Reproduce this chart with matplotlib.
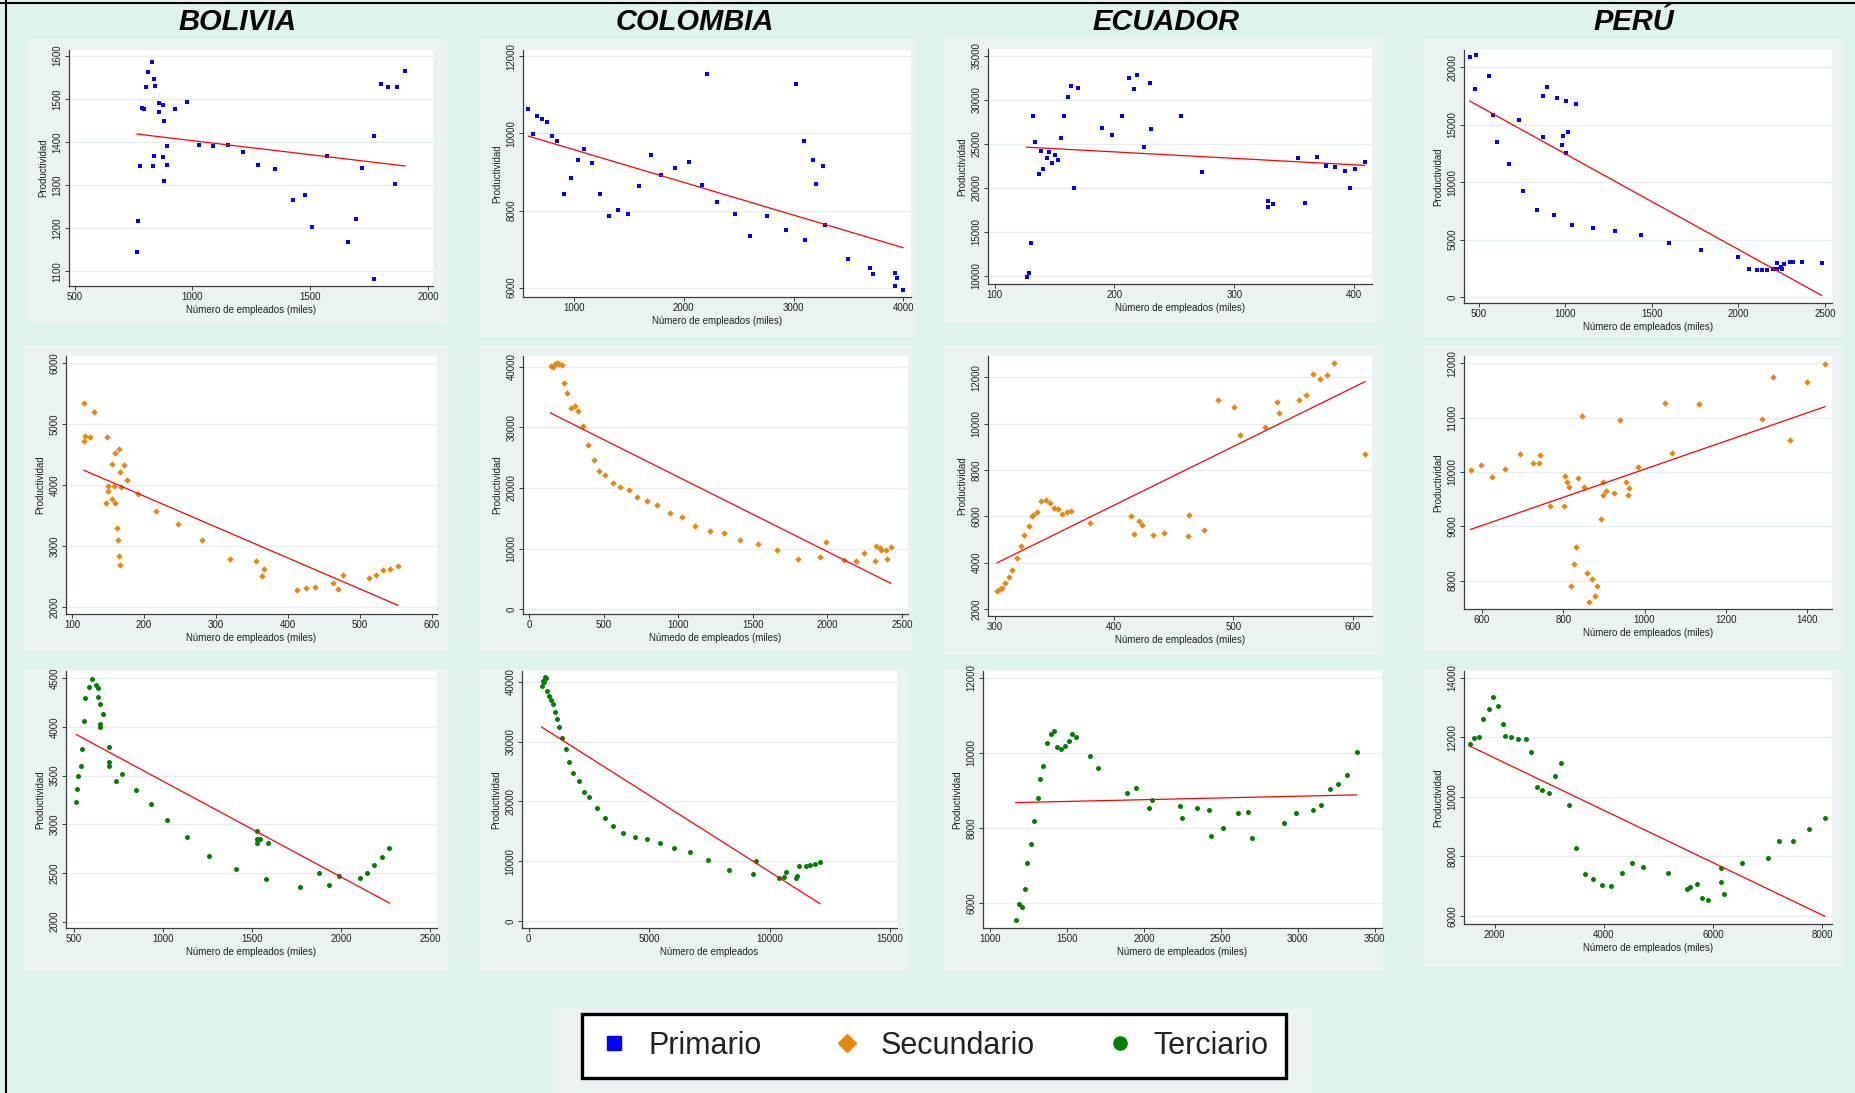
import numpy as np
import matplotlib.pyplot as plt
from matplotlib.patches import Rectangle
from matplotlib.lines import Line2D

plt.rcParams['font.family'] = ['Liberation Sans', 'DejaVu Sans']

countries = ['BOLIVIA', 'COLOMBIA', 'ECUADOR', 'PERÚ']
sectors = ['Primario', 'Secundario', 'Terciario']

# --- Primario ---
bol_pri_x = [765, 769, 779, 787, 793, 802, 810, 827, 833, 837, 837, 841, 860, 860, 874, 874, 878, 878, 891, 891,
             926, 976, 1030, 1089, 1151, 1214, 1280, 1352, 1429, 1477, 1510, 1572, 1663, 1694, 1721, 1770, 1770,
             1801, 1832, 1859, 1869, 1904]
bol_pri_y = [1144, 1216, 1345, 1479, 1477, 1527, 1562, 1585, 1345, 1368, 1546, 1530, 1489, 1469, 1485, 1366, 1448,
             1310, 1391, 1347, 1476, 1493, 1393, 1391, 1393, 1377, 1347, 1338, 1266, 1278, 1202, 1368, 1167, 1221,
             1340, 1414, 1082, 1534, 1527, 1303, 1527, 1564]

col_pri_x = [584, 624, 663, 706, 757, 797, 848, 909, 973, 1033, 1094, 1164, 1237, 1318, 1400, 1491, 1594, 1697,
             1797, 1919, 2043, 2165, 2207, 2307, 2462, 2604, 2756, 2932, 3023, 3096, 3105, 3175, 3205, 3269, 3290,
             3493, 3699, 3726, 3927, 3942, 3921, 3997]
col_pri_y = [10632, 9983, 10450, 10364, 10303, 9931, 9801, 8441, 8849, 9307, 9602, 9229, 8441, 7853, 8009, 7905,
             8632, 9446, 8926, 9091, 9256, 8658, 11550, 8234, 7905, 7342, 7853, 7498, 11281, 9792, 7229, 9307, 8693,
             9152, 7636, 6745, 6502, 6346, 6372, 6260, 6043, 5939]

ecu_pri_x = [126.7, 128.7, 130.3, 132.3, 134.0, 136.7, 138.7, 140.6, 143.4, 145.1, 147.8, 150.7, 152.6, 155.4,
             158.2, 161.0, 163.7, 166.5, 169.3, 189.6, 198.0, 206.6, 212.2, 216.6, 218.6, 225.0, 229.7, 230.5,
             255.6, 273.1, 327.9, 327.9, 332.7, 353.3, 359.4, 368.9, 376.4, 383.9, 392.2, 396.7, 400.6, 408.9]
ecu_pri_y = [9810, 10264, 13711, 28106, 25189, 21590, 24204, 22158, 23409, 24091, 22840, 23750, 23182, 25644,
             28106, 30303, 31591, 20000, 31363, 26780, 25985, 28106, 32500, 31250, 32841, 24621, 31932, 26629,
             28106, 21818, 18485, 17803, 18144, 23409, 18258, 23523, 22500, 22386, 21932, 20000, 22083, 22955]

per_pri_x = [448, 483, 479, 558, 583, 606, 676, 730, 753, 839, 870, 870, 895, 932, 951, 980, 988, 1005, 1005, 1013,
             1036, 1061, 1160, 1289, 1435, 1601, 1784, 1995, 2062, 2105, 2135, 2166, 2197, 2220, 2224, 2245, 2251,
             2265, 2296, 2315, 2369, 2481]
per_pri_y = [20872, 21047, 18081, 19273, 15843, 13517, 11570, 15378, 9273, 7587, 17500, 13895, 18256, 7122, 17326,
             13256, 14012, 17064, 12529, 14360, 6308, 16773, 6017, 5727, 5378, 4709, 4070, 3517, 2413, 2326, 2326,
             2326, 2413, 2965, 2413, 2616, 2413, 2849, 3052, 3052, 3052, 2965]

# --- Secundario ---
bol_sec_x = [116.7, 130.1, 116.7, 118.5, 124.5, 148.1, 160.2, 165.7, 155.6, 172.2, 167.1, 176.4, 149.5, 149.5,
             158.3, 167.6, 146.8, 160.2, 155.6, 191.2, 216.7, 162.0, 164.4, 165.7, 167.1, 246.8, 281.0, 319.4,
             355.6, 363.4, 366.2, 412.5, 425.5, 437.5, 462.5, 469.4, 476.4, 512.5, 522.7, 532.4, 542.1, 552.8]
bol_sec_y = [5351, 5209, 4729, 4816, 4799, 4799, 4532, 4592, 4357, 4336, 4216, 4090, 3986, 3910, 3981, 3965, 3703,
             3703, 3774, 3861, 3577, 3293, 3102, 2835, 2693, 3370, 3102, 2797, 2764, 2513, 2622, 2284, 2322, 2338,
             2404, 2306, 2529, 2480, 2535, 2606, 2622, 2671]

col_sec_x = [145, 163, 172, 188, 204, 219, 233, 257, 280, 307, 331, 360, 398, 434, 472, 510, 561, 607, 667, 727,
             793, 859, 944, 1025, 1115, 1213, 1307, 1417, 1536, 1661, 1800, 1952, 1990, 2108, 2191, 2245, 2319, 2328,
             2355, 2362, 2393, 2400, 2424]
col_sec_y = [40166, 40000, 40388, 40555, 40388, 40222, 37337, 35728, 33176, 33564, 32676, 30291, 27128, 24577,
             22801, 22080, 20804, 20249, 19695, 18474, 17920, 17198, 15867, 15200, 13758, 12871, 12649, 11428,
             10707, 9819, 8321, 8543, 11096, 8155, 7988, 9264, 7988, 10374, 10041, 9764, 9819, 8321, 10208]

ecu_sec_x = [302.2, 304.2, 305.9, 308.4, 312.0, 314.8, 318.4, 322.1, 324.9, 328.5, 331.3, 332.4, 335.5, 339.1,
             342.7, 346.4, 349.4, 353.1, 356.7, 360.6, 364.2, 379.9, 414.2, 417.0, 420.9, 423.7, 432.9, 442.2,
             462.0, 462.8, 474.9, 487.2, 500.8, 505.6, 526.0, 536.3, 538.3, 555.0, 560.6, 566.2, 572.6, 578.2,
             583.8, 610.1]
ecu_sec_y = [2790, 2848, 2906, 3136, 3367, 3683, 4201, 4719, 5194, 5568, 6028, 6071, 6186, 6647, 6705, 6561, 6359,
             6316, 6115, 6186, 6230, 5712, 5999, 5237, 5798, 5611, 5194, 5294, 5150, 6043, 5424, 11021, 10734, 9510,
             9842, 10921, 10446, 11021, 11252, 12144, 11914, 12101, 12619, 8676]

per_sec_x = [572, 598, 625, 656, 693, 726, 740, 743, 768, 803, 805, 810, 814, 818, 826, 832, 836, 845, 850, 858,
             863, 871, 879, 883, 892, 897, 898, 904, 924, 939, 954, 959, 962, 983, 1051, 1067, 1134, 1289, 1315,
             1357, 1399, 1444]
per_sec_y = [10040, 10138, 9905, 10058, 10334, 10168, 10168, 10309, 9378, 9378, 9929, 9807, 9733, 7908, 8300, 8618,
             9887, 11032, 9733, 8147, 7608, 8024, 7712, 7908, 9139, 9825, 9568, 9654, 9611, 10959, 9825, 9586, 9697,
             10095, 11271, 10352, 11253, 10977, 11755, 10591, 11657, 11988]

# --- Terciario ---
bol_ter_x = [515, 521, 526, 539, 545, 556, 564, 588, 605, 623, 636, 636, 648, 648, 648, 666, 696, 696, 696, 739,
             769, 848, 932, 1021, 1137, 1259, 1408, 1528, 1528, 1528, 1547, 1577, 1588, 1769, 1877, 1932, 1986, 2106,
             2143, 2186, 2227, 2270]
bol_ter_y = [3231, 3365, 3498, 3597, 3775, 4066, 4295, 4408, 4497, 4432, 4397, 4308, 4240, 4031, 3997, 4131, 3795,
             3642, 3597, 3443, 3518, 3354, 3207, 3043, 2865, 2674, 2544, 2930, 2845, 2810, 2845, 2441, 2810, 2356,
             2499, 2376, 2465, 2445, 2499, 2578, 2663, 2752]

col_ter_x = [540, 581, 623, 678, 734, 761, 858, 913, 996, 1080, 1176, 1259, 1398, 1536, 1675, 1855, 2076, 2297,
             2519, 2837, 3156, 3515, 3917, 4415, 4913, 5439, 6034, 6699, 7460, 8318, 9300, 9439, 10380, 10601,
             10698, 11100, 11155, 11238, 11515, 11695, 11875, 12096]
col_ter_y = [39222, 40111, 39944, 40833, 40667, 38500, 37611, 36889, 36333, 34889, 33833, 32389, 30556, 28778,
             26611, 24833, 23389, 21556, 20833, 18889, 17278, 15833, 14722, 14000, 13667, 13111, 12222, 11500,
             10222, 8611, 7889, 10056, 7167, 7333, 8222, 7167, 7556, 9167, 9167, 9333, 9500, 9889]

ecu_ter_x = [1167, 1189, 1206, 1228, 1243, 1265, 1286, 1310, 1326, 1347, 1369, 1393, 1415, 1438, 1460, 1488, 1512,
             1534, 1558, 1649, 1701, 1888, 1948, 2031, 2055, 2235, 2248, 2345, 2421, 2437, 2513, 2614, 2677, 2706,
             2910, 2992, 3098, 3150, 3211, 3263, 3322, 3383]
ecu_ter_y = [5549, 5982, 5894, 6380, 7071, 7584, 8186, 8788, 9310, 9655, 10257, 10513, 10593, 10168, 10115, 10195,
             10310, 10513, 10425, 9911, 9593, 8938, 9080, 8531, 8761, 8593, 8274, 8531, 8478, 7788, 7991, 8389, 8416,
             7734, 8133, 8389, 8478, 8619, 9053, 9168, 9425, 10027]

per_ter_x = [1541, 1615, 1713, 1792, 1890, 1969, 2067, 2159, 2196, 2300, 2434, 2575, 2667, 2771, 2862, 2985, 3101,
             3211, 3352, 3492, 3645, 3798, 3957, 4128, 4324, 4520, 4715, 5180, 5529, 5584, 5706, 5804, 5902, 6153,
             6153, 6196, 6526, 7009, 7205, 7461, 7749, 8043]
per_ter_y = [11765, 11978, 12011, 12626, 12950, 13341, 13050, 12447, 12056, 12022, 11944, 11944, 11508, 10335,
             10235, 10134, 10693, 11128, 9732, 8279, 7419, 7240, 7028, 6994, 7453, 7777, 7631, 7453, 6916, 6961,
             7061, 6592, 6525, 7598, 7129, 6737, 7777, 7955, 8525, 8525, 8916, 9274]

lbl_miles = 'Número de empleados (miles)'

W, H = 1856, 1093
fig = plt.figure(figsize=(W / 100, H / 100), dpi=100)
fig.patch.set_facecolor('#def2ee')

def rect(l, r, t, b):
    return [l / W, 1 - b / H, (r - l) / W, (b - t) / H]

def region(l, r, t, b, color='#eaf2f3'):
    fig.add_artist(Rectangle((l / W, 1 - b / H), (r - l) / W, (b - t) / H, transform=fig.transFigure,
                             facecolor=color, edgecolor='none', zorder=0))

styles = [('s', '#0000ff', 3.4), ('D', '#e8870e', 3.3), ('o', '#008000', 3.6)]

# (x, y, sector, xticks, yticks, xlim, ylim, xlabel, plot box, region box)
panels = [
    (bol_pri_x, bol_pri_y, 0, range(500, 2001, 500), range(1100, 1601, 100), (476, 2022), (1066, 1613),
     lbl_miles, (69, 433, 50, 286), (27, 446, 39, 324)),
    (col_pri_x, col_pri_y, 0, range(1000, 4001, 1000), range(6000, 12001, 2000), (536, 4069), (5758, 12164),
     lbl_miles, (523, 911, 50, 297), (479, 915, 39, 337)),
    (ecu_pri_x, ecu_pri_y, 0, range(100, 401, 100), range(10000, 35001, 5000), (94.4, 415), (9052, 35758),
     lbl_miles, (988, 1372, 49, 284), (943, 1382, 38, 323)),
    (per_pri_x, per_pri_y, 0, range(500, 2501, 500), range(0, 20001, 5000), (415, 2540), (-523, 21512),
     lbl_miles, (1464, 1832, 50, 303), (1422, 1843, 39, 337)),
    (bol_sec_x, bol_sec_y, 1, range(100, 601, 100), range(2000, 6001, 1000), (91.7, 607), (1891, 6120),
     lbl_miles, (66, 437, 356, 614), (22, 450, 345, 651)),
    (col_sec_x, col_sec_y, 1, range(0, 2501, 500), range(0, 40001, 10000), (-40, 2540), (-778, 41775),
     'Númedo de empleados (miles)', (523, 908, 356, 614), (478, 912, 345, 651)),
    (ecu_sec_x, ecu_sec_y, 1, range(300, 601, 100), range(2000, 12001, 2000), (294.4, 616), (1697, 12921),
     lbl_miles, (988, 1372, 356, 616), (943, 1382, 345, 655)),
    (per_sec_x, per_sec_y, 1, range(600, 1401, 200), range(8000, 12001, 1000), (556, 1461), (7479, 12135),
     lbl_miles, (1464, 1832, 356, 609), (1422, 1843, 345, 651)),
    (bol_ter_x, bol_ter_y, 2, range(500, 2501, 500), range(2000, 4501, 500), (457, 2537), (1935, 4575),
     lbl_miles, (66, 437, 671, 928), (23, 450, 669, 971)),
    (col_ter_x, col_ter_y, 2, range(0, 15001, 5000), range(0, 40001, 10000), (-277, 15293), (-1111, 41778),
     'Número de empleados', (522, 897, 671, 928), (478, 908, 669, 971)),
    (ecu_ter_x, ecu_ter_y, 2, range(1000, 3501, 500), range(6000, 12001, 2000), (954, 3548), (5345, 12177),
     lbl_miles, (983, 1382, 671, 928), (943, 1383, 669, 971)),
    (per_ter_x, per_ter_y, 2, range(2000, 8001, 2000), range(6000, 14001, 2000), (1437, 8177), (5732, 14223),
     lbl_miles, (1464, 1832, 671, 924), (1422, 1843, 669, 967)),
]

axis_col = '#3c3c3c'
for x, y, sec, xt, yt, xl, yl, xlab, pbox, rbox in panels:
    region(*rbox)
    ax = fig.add_axes(rect(*pbox))
    ax.set_facecolor('white')
    x = np.array(x, float)
    y = np.array(y, float)
    m, c, ms = styles[sec]
    ax.plot(x, y, ls='none', marker=m, color=c, markersize=ms, markeredgewidth=0, zorder=3)
    # linear fit, drawn over the observed range of x
    b1, b0 = np.polyfit(x, y, 1)
    xs = np.array([x.min(), x.max()])
    ax.plot(xs, b0 + b1 * xs, color='#ff0000', lw=0.9, zorder=4)
    ax.set_xlim(*xl)
    ax.set_ylim(*yl)
    ax.set_xticks(list(xt), labels=[str(v) for v in xt])
    ax.set_yticks(list(yt), labels=[str(v) for v in yt])
    for s in ['top', 'right']:
        ax.spines[s].set_visible(False)
    for s in ['left', 'bottom']:
        ax.spines[s].set_color(axis_col)
        ax.spines[s].set_linewidth(0.9)
    ax.tick_params(labelsize=7, length=3, width=0.7, color=axis_col, pad=1.5, labelcolor='#222222')
    plt.setp(ax.get_yticklabels(), rotation=90, va='center')
    ax.yaxis.grid(True, color='#e6eef0', lw=1.0)
    ax.set_axisbelow(True)
    ax.set_xlabel(xlab, fontsize=7, labelpad=2, color='#222222')
    ax.set_ylabel('Productividad', fontsize=7, labelpad=3, color='#222222')

for name, cx in zip(countries, [237, 695, 1166, 1634]):
    fig.text(cx / W, 1 - 22 / H, name, ha='center', va='center', fontsize=21,
             fontweight='bold', fontstyle='italic', color='black')

# legend
region(553, 1312, 1008, 1093)
handles = [Line2D([], [], ls='none', marker=styles[i][0], color=styles[i][1], markersize=9.5 if i != 1 else 9)
           for i in range(3)]
leg = fig.legend(handles, sectors, loc='center', bbox_to_anchor=(934 / W, 1 - 1046 / H), ncol=3,
                 frameon=True, fancybox=False, edgecolor='black', facecolor='white', framealpha=1,
                 fontsize=22, handletextpad=0.6, columnspacing=2.3, borderpad=0.55, handlelength=1.0)
leg.get_frame().set_linewidth(2.4)
for t in leg.get_texts():
    t.set_color('#222222')

# slide frame
fig.add_artist(Line2D([6 / W, 6 / W], [0, 1], color='black', lw=1.5, transform=fig.transFigure))
fig.add_artist(Line2D([0, 1], [1 - 3 / H, 1 - 3 / H], color='black', lw=1.5, transform=fig.transFigure))

fig.savefig('out.png', dpi=100, facecolor=fig.get_facecolor())
